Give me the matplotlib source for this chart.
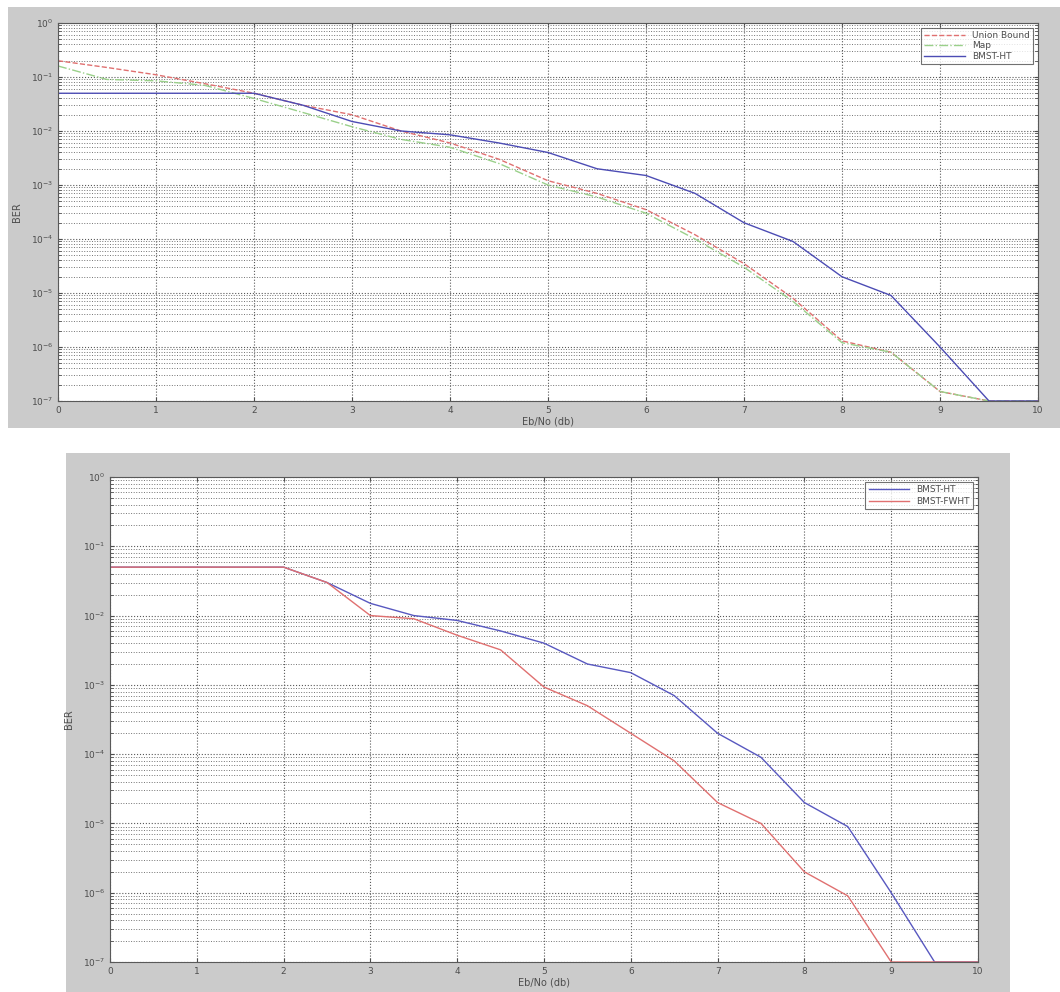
# BER curves for BMST-HT / BMST-FWHT, two MATLAB style figure panels stacked
import matplotlib
matplotlib.use('Agg')
import matplotlib.pyplot as plt
import numpy as np
from matplotlib.patches import Rectangle
from matplotlib.ticker import LogLocator, NullFormatter, MultipleLocator

### data ###
ebno = [0, 0.5, 1, 1.5, 2, 2.5, 3, 3.5, 4, 4.5, 5, 5.5, 6, 6.5, 7, 7.5, 8, 8.5, 9, 9.5, 10]

union_bound = [0.2, 0.15, 0.11, 0.075, 0.05, 0.03, 0.02, 0.01, 0.006, 0.003, 0.0012,
               7e-4, 3.5e-4, 1.2e-4, 3.5e-5, 8e-6, 1.3e-6, 8e-7, 1.5e-7, 1e-7, 1e-7]
map_ber = [0.16, 0.09, 0.085, 0.07, 0.04, 0.022, 0.012, 0.007, 0.005, 0.0025, 0.001,
           6e-4, 3e-4, 1e-4, 3e-5, 7e-6, 1.2e-6, 8e-7, 1.5e-7, 1e-7, 1e-7]
bmst_ht = [0.05, 0.05, 0.05, 0.05, 0.05, 0.03, 0.015, 0.01, 0.0085, 0.006, 0.004,
           0.002, 0.0015, 7e-4, 2e-4, 9e-5, 2e-5, 9e-6, 1e-6, 1e-7, 1e-7]
bmst_fwht = [0.05, 0.05, 0.05, 0.05, 0.05, 0.03, 0.01, 0.009, 0.0052, 0.0032, 9.3e-4,
             5e-4, 2e-4, 8e-5, 2e-5, 1e-5, 2e-6, 9e-7, 1e-7, 1e-7, 1e-7]

ylabels = ['$10^{%d}$' % e for e in range(-7, 1)]

W, H = 1060.0, 992.0

def fx(px):
	return px / W

def fy(py):
	return 1 - py / H

fig = plt.figure(figsize=(10.6, 9.92), dpi=100)
fig.patch.set_facecolor('white')

# grey window backgrounds (behind the axes)
fig.patches.append(Rectangle((fx(8), fy(428)), fx(1052), (428 - 7) / H,
	transform=fig.transFigure, facecolor='#cbcbcb', edgecolor='none', zorder=-5))
fig.patches.append(Rectangle((fx(66), fy(992)), fx(944), (992 - 453) / H,
	transform=fig.transFigure, facecolor='#cbcbcb', edgecolor='none', zorder=-5))

def style_axes(ax):
	ax.set_yscale('log')
	ax.set_xlim(0, 10)
	ax.set_ylim(1e-7, 1)
	ax.set_facecolor('white')
	ax.xaxis.set_major_locator(MultipleLocator(1))
	ax.yaxis.set_minor_locator(LogLocator(base=10, subs=np.arange(2, 10), numticks=20))
	ax.yaxis.set_minor_formatter(NullFormatter())
	ax.set_yticks([10.0 ** e for e in range(-7, 1)])
	ax.set_yticklabels(ylabels)
	ax.grid(True, which='major', linestyle=':', color='0.35', linewidth=0.8)
	ax.grid(True, which='minor', axis='y', linestyle=':', color='0.45', linewidth=0.7)
	ax.tick_params(which='both', direction='in', top=True, right=True, labelsize=6.5,
		colors='0.3', length=3)
	ax.tick_params(which='minor', length=2)
	for s in ax.spines.values():
		s.set_color('0.35')
		s.set_linewidth(0.8)
	ax.set_axisbelow(True)
	ax.set_xlabel('Eb/No (db)', fontsize=7, color='0.3', labelpad=1)
	ax.set_ylabel('BER', fontsize=7, color='0.3', labelpad=6)

# top panel
ax1 = fig.add_axes([fx(58), fy(401), (1038 - 58) / W, (401 - 23) / H])
style_axes(ax1)
ax1.plot(ebno, union_bound, color='#e07070', linestyle='--', linewidth=1, label='Union Bound')
ax1.plot(ebno, map_ber, color='#9ad08a', linestyle='-.', linewidth=1, label='Map')
ax1.plot(ebno, bmst_ht, color='#4c4cb4', linestyle='-', linewidth=1, label='BMST-HT')
leg1 = ax1.legend(loc='upper right', fontsize=6.5, frameon=True, fancybox=False,
	handlelength=4.5, borderpad=0.3, labelspacing=0.15, borderaxespad=0.6)
leg1.get_frame().set_edgecolor('0.3')
leg1.get_frame().set_linewidth(0.8)
for t in leg1.get_texts():
	t.set_color('0.3')

# bottom panel
ax2 = fig.add_axes([fx(110), fy(962), (978 - 110) / W, (962 - 477) / H])
style_axes(ax2)
ax2.plot(ebno, bmst_ht, color='#5858c0', linestyle='-', linewidth=1, label='BMST-HT')
ax2.plot(ebno, bmst_fwht, color='#e07070', linestyle='-', linewidth=1, label='BMST-FWHT')
leg2 = ax2.legend(loc='upper right', fontsize=6.5, frameon=True, fancybox=False,
	handlelength=4.5, borderpad=0.4, labelspacing=0.3, borderaxespad=0.5)
leg2.get_frame().set_edgecolor('0.3')
leg2.get_frame().set_linewidth(0.8)
for t in leg2.get_texts():
	t.set_color('0.3')

plt.savefig('out.png', dpi=100)
plt.close()
